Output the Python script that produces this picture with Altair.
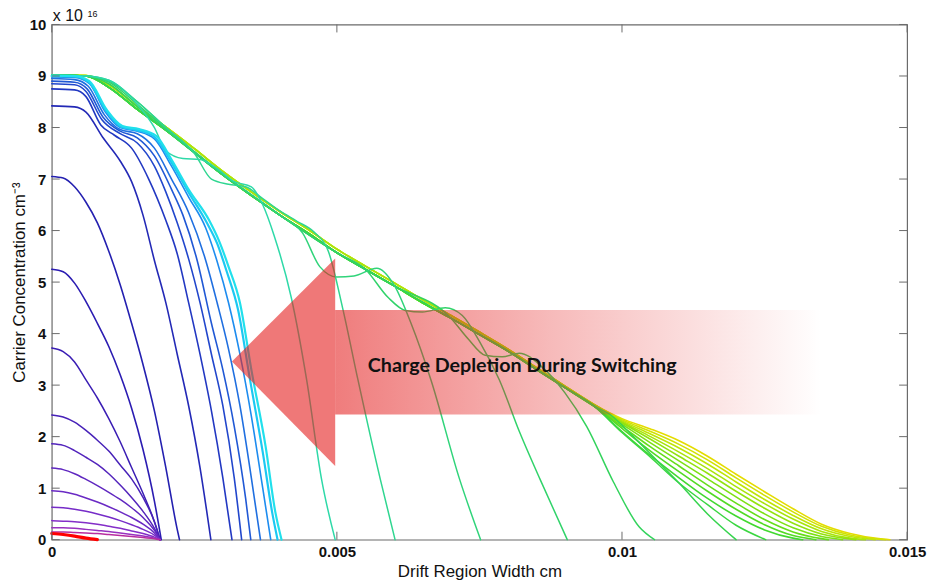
import altair as alt
import pandas as pd

W, H = 860, 518
FRAME = "#6b6b6b"

x_ticks = [0, 0.005, 0.01, 0.015]
y_ticks = [0, 1, 2, 3, 4, 5, 6, 7, 8, 9, 10]

# ---- carrier profiles: x in cm, y in 1e16 cm^-3 ----
# upper part of the high-injection (yellow/green) bundle: outer and inner edge of the band
bundle_head_x = [0, 0.0006, 0.001, 0.0015, 0.002, 0.0025, 0.003, 0.0035, 0.004, 0.0045,
                 0.005, 0.0055, 0.006, 0.0065, 0.007, 0.0075, 0.008, 0.0085, 0.009, 0.0095]
bundle_outer_y = [9.02, 9.01, 8.83, 8.41, 8.01, 7.59, 7.15, 6.75, 6.37, 6.02,
                  5.64, 5.31, 4.99, 4.66, 4.35, 4.03, 3.7, 3.34, 2.98, 2.63]
bundle_inner_y = [9.02, 9.0, 8.78, 8.35, 7.95, 7.52, 7.08, 6.68, 6.3, 5.95,
                  5.57, 5.25, 4.93, 4.6, 4.3, 3.98, 3.66, 3.3, 2.95, 2.6]

# tails of the bundle (colour, x-values, y-values)
bundle_tails = [
    ("#e4dc00", [0.01, 0.0105, 0.011, 0.0115, 0.012, 0.0125, 0.013, 0.0135, 0.014, 0.0145, 0.0147],
                [2.35, 2.15, 1.92, 1.62, 1.27, 0.93, 0.6, 0.3, 0.12, 0.02, 0]),
    ("#d2e203", [0.01, 0.0105, 0.011, 0.0115, 0.012, 0.0125, 0.013, 0.0135, 0.014, 0.0145, 0.01462],
                [2.33, 2.1, 1.85, 1.55, 1.2, 0.86, 0.54, 0.26, 0.09, 0.01, 0]),
    ("#bfe507", [0.01, 0.0105, 0.011, 0.0115, 0.012, 0.0125, 0.013, 0.0135, 0.014, 0.01444],
                [2.31, 2.05, 1.78, 1.47, 1.12, 0.78, 0.47, 0.21, 0.06, 0]),
    ("#a9e40b", [0.01, 0.0105, 0.011, 0.0115, 0.012, 0.0125, 0.013, 0.0135, 0.014, 0.01427],
                [2.29, 2.0, 1.7, 1.38, 1.03, 0.7, 0.4, 0.16, 0.03, 0]),
    ("#93e20f", [0.01, 0.0105, 0.011, 0.0115, 0.012, 0.0125, 0.013, 0.0135, 0.0141],
                [2.27, 1.95, 1.62, 1.29, 0.94, 0.61, 0.32, 0.11, 0]),
    ("#7de014", [0.01, 0.0105, 0.011, 0.0115, 0.012, 0.0125, 0.013, 0.0135, 0.01387],
                [2.24, 1.88, 1.53, 1.18, 0.83, 0.5, 0.23, 0.06, 0]),
    ("#66dd1a", [0.01, 0.0105, 0.011, 0.0115, 0.012, 0.0125, 0.013, 0.0135, 0.01362],
                [2.2, 1.8, 1.43, 1.06, 0.71, 0.39, 0.15, 0.02, 0]),
    ("#52da24", [0.01, 0.0105, 0.011, 0.0115, 0.012, 0.0125, 0.013, 0.0134],
                [2.16, 1.72, 1.32, 0.94, 0.59, 0.29, 0.08, 0]),
    ("#42d830", [0.01, 0.0105, 0.011, 0.0115, 0.012, 0.0125, 0.013, 0.01317],
                [2.1, 1.63, 1.2, 0.8, 0.46, 0.19, 0.03, 0]),
]
bundle_on_outer_edge = [True, True, True, True, False, False, False, False, False]

# depletion fronts moving left, each with a shelf / hump before its steep drop (colour, x, y)
fronts = [
    ("#3ad640", [0, 0.0006, 0.001, 0.0015, 0.002, 0.003, 0.004, 0.005, 0.006, 0.007, 0.008, 0.009, 0.0095,
                 0.01, 0.0105, 0.011, 0.0115, 0.012, 0.01252],
                [9.02, 9.0, 8.78, 8.35, 7.95, 7.08, 6.3, 5.57, 4.93, 4.3, 3.66, 2.95, 2.6,
                 2.08, 1.6, 1.1, 0.68, 0.28, 0]),
    ("#36d44e", [0, 0.0006, 0.001, 0.0015, 0.002, 0.003, 0.004, 0.005, 0.006, 0.007, 0.008, 0.009, 0.0095,
                 0.0098, 0.0102, 0.0106, 0.011, 0.0115, 0.012],
                [9.02, 9.0, 8.78, 8.35, 7.95, 7.08, 6.3, 5.57, 4.93, 4.3, 3.66, 2.95, 2.6,
                 2.42, 2.0, 1.55, 1.1, 0.5, 0]),
    ("#33d35c", [0, 0.0006, 0.001, 0.0015, 0.002, 0.003, 0.004, 0.005, 0.006, 0.007, 0.0073, 0.0076,
                 0.0079, 0.0082, 0.0086, 0.009, 0.00938, 0.00985, 0.0103, 0.01057],
                [9.02, 9.0, 8.85, 8.4, 7.95, 7.08, 6.3, 5.57, 4.93, 4.3, 3.9, 3.58,
                 3.55, 3.62, 3.35, 2.85, 2.2, 1.12, 0.25, 0]),
    ("#31d36a", [0, 0.0006, 0.001, 0.0015, 0.002, 0.003, 0.004, 0.005, 0.0055, 0.0059, 0.0062, 0.0065,
                 0.0069, 0.0072, 0.0075, 0.00785, 0.0082, 0.00856, 0.00904],
                [9.02, 9.0, 8.88, 8.45, 7.97, 7.08, 6.3, 5.57, 5.25, 4.7, 4.45, 4.42,
                 4.5, 4.35, 3.85, 3.1, 2.1, 1.18, 0]),
    ("#30d47a", [0, 0.0006, 0.001, 0.0015, 0.002, 0.003, 0.004, 0.0044, 0.0047, 0.005, 0.0053, 0.0057,
                 0.006, 0.0063, 0.00665, 0.00715, 0.00752],
                [9.02, 9.0, 8.9, 8.5, 8.0, 7.1, 6.3, 5.95, 5.3, 5.1, 5.12, 5.27,
                 4.95, 4.2, 3.1, 1.18, 0]),
    ("#2fd690", [0, 0.0006, 0.001, 0.0015, 0.002, 0.0025, 0.0028, 0.0031, 0.0034, 0.0037, 0.004, 0.0043,
                 0.0046, 0.00485, 0.0051, 0.00537, 0.00576, 0.00602],
                [9.02, 9.0, 8.92, 8.5, 8.0, 7.5, 7.0, 6.9, 6.85, 6.62, 6.38, 6.18,
                 5.97, 5.6, 4.5, 3.1, 1.18, 0]),
    ("#2ed9a8", [0, 0.0006, 0.001, 0.0015, 0.0018, 0.002, 0.0023, 0.0026, 0.0029, 0.0032, 0.0035, 0.0037,
                 0.0039, 0.0042, 0.00447, 0.00473, 0.00497],
                [9.02, 9.0, 8.92, 8.45, 8.0, 7.55, 7.4, 7.38, 7.2, 6.95, 6.85, 6.5,
                 5.9, 4.7, 3.1, 1.18, 0]),
]

# cyan and blue profiles with the shoulder near 8e16 (colour, width, x, y)
blues = [
    ("#20e0ec", 2.2, [0, 0.0004, 0.00066, 0.00096, 0.00124, 0.00153, 0.00183, 0.00211, 0.00241, 0.00276,
                      0.00293, 0.0031, 0.0033, 0.0035, 0.00375, 0.00392, 0.00403],
                     [9.0, 9.0, 8.9, 8.35, 8.03, 7.97, 7.84, 7.36, 6.78, 6.2, 5.81, 5.3, 4.6, 3.3, 1.81, 0.54, 0]),
    ("#1cc8f2", 2.2, [0, 0.0004, 0.00065, 0.00095, 0.00122, 0.0015, 0.0018, 0.0021, 0.0024, 0.00272,
                      0.0029, 0.00307, 0.00327, 0.00347, 0.0037, 0.00387, 0.00396],
                     [9.0, 8.99, 8.88, 8.33, 8.01, 7.95, 7.82, 7.32, 6.74, 6.15, 5.75, 5.2, 4.45, 3.15, 1.7, 0.5, 0]),
    ("#1d8cef", 1.6, [0, 0.0004, 0.00066, 0.00094, 0.0012, 0.0015, 0.0018, 0.0021, 0.0024, 0.0027,
                      0.0029, 0.0031, 0.0033, 0.0035, 0.0037, 0.00384],
                     [8.98, 8.97, 8.85, 8.3, 8.0, 7.93, 7.78, 7.25, 6.65, 6.05, 5.4, 4.6, 3.6, 2.4, 1.0, 0]),
    ("#1f6fe0", 1.6, [0, 0.0004, 0.00064, 0.00092, 0.0012, 0.0015, 0.0018, 0.0021, 0.0024, 0.0027,
                      0.0029, 0.0031, 0.0033, 0.0035, 0.00366],
                     [8.95, 8.93, 8.8, 8.25, 7.96, 7.88, 7.6, 7.0, 6.35, 5.42, 4.6, 3.7, 2.6, 1.2, 0]),
    ("#2058d5", 1.6, [0, 0.0004, 0.00062, 0.0009, 0.0012, 0.0015, 0.0018, 0.0021, 0.0023, 0.00255,
                      0.0028, 0.003, 0.0032, 0.0034, 0.00349],
                     [8.9, 8.88, 8.75, 8.2, 7.93, 7.8, 7.45, 6.8, 6.3, 5.42, 4.2, 3.3, 2.2, 0.8, 0]),
    ("#2146cc", 1.6, [0, 0.0004, 0.0006, 0.00088, 0.0012, 0.0015, 0.0018, 0.002, 0.0022, 0.0024,
                      0.0026, 0.0028, 0.003, 0.0032, 0.00333],
                     [8.85, 8.83, 8.7, 8.15, 7.88, 7.7, 7.25, 6.75, 6.15, 5.45, 4.6, 3.6, 2.6, 1.2, 0]),
    ("#2238c2", 1.6, [0, 0.0004, 0.0006, 0.00086, 0.0011, 0.0014, 0.0017, 0.002, 0.0022, 0.0024,
                      0.0026, 0.0028, 0.003, 0.00316],
                     [8.75, 8.73, 8.6, 8.05, 7.85, 7.6, 7.0, 6.2, 5.55, 4.6, 3.6, 2.5, 1.2, 0]),
    ("#2329b6", 1.6, [0, 0.0004, 0.0006, 0.0009, 0.0012, 0.0014, 0.0016, 0.0018, 0.002, 0.0022,
                      0.0024, 0.0026, 0.00279],
                     [8.42, 8.4, 8.3, 7.8, 7.35, 6.95, 6.3, 5.42, 4.6, 3.6, 2.6, 1.4, 0]),
    ("#2420b0", 1.6, [0, 0.0002, 0.0004, 0.0006, 0.0008, 0.001, 0.0012, 0.0014, 0.0016, 0.0018,
                      0.002, 0.0022, 0.00224],
                     [7.05, 7.02, 6.85, 6.55, 6.15, 5.6, 4.95, 4.2, 3.4, 2.5, 1.4, 0.2, 0]),
    ("#2b1cb2", 1.6, [0, 0.0002, 0.0004, 0.0006, 0.0008, 0.001, 0.0012, 0.0014, 0.0016, 0.0018, 0.00192],
                     [5.25, 5.2, 4.98, 4.62, 4.2, 3.75, 3.2, 2.55, 1.75, 0.75, 0]),
]

# low-level (violet) profiles converging near x = 0.0019
violet_x = [0, 0.0002, 0.0004, 0.0006, 0.0008, 0.001, 0.0012, 0.0014, 0.0016, 0.0018, 0.0019]
violets = [
    ("#3a1db4", [3.72, 3.65, 3.45, 3.1, 2.75, 2.35, 1.9, 1.4, 0.9, 0.35, 0]),
    ("#4721b8", [2.42, 2.38, 2.28, 2.12, 1.93, 1.72, 1.45, 1.18, 0.82, 0.35, 0]),
    ("#5324bc", [1.86, 1.83, 1.73, 1.6, 1.46, 1.28, 1.06, 0.82, 0.55, 0.22, 0]),
    ("#5f27c0", [1.39, 1.36, 1.28, 1.17, 1.05, 0.92, 0.78, 0.62, 0.43, 0.18, 0]),
    ("#6a2ac4", [0.95, 0.93, 0.88, 0.81, 0.73, 0.64, 0.54, 0.43, 0.3, 0.13, 0]),
    ("#762cc8", [0.63, 0.62, 0.59, 0.55, 0.5, 0.44, 0.37, 0.29, 0.2, 0.09, 0]),
    ("#842ec8", [0.37, 0.36, 0.35, 0.33, 0.3, 0.26, 0.22, 0.17, 0.12, 0.05, 0]),
    ("#9830c0", [0.23, 0.23, 0.22, 0.2, 0.18, 0.16, 0.13, 0.1, 0.07, 0.03, 0]),
    ("#b82ca0", [0.15, 0.15, 0.14, 0.13, 0.12, 0.1, 0.08, 0.06, 0.04, 0.02, 0]),
]
red_x = [0, 0.0002, 0.0004, 0.0006, 0.0008]
red_y = [0.12, 0.1, 0.07, 0.03, 0.0]

# arrow annotation (data coordinates)
arrow_tip = (0.00316, 3.46)
arrow_base_x = 0.00497
arrow_head_top, arrow_head_bottom = 5.46, 1.43
shaft_end_x = 0.0135
shaft_top, shaft_bottom = 4.46, 2.43
label_text = "Charge Depletion During Switching"
label_pos = (0.00825, 3.38)

# ---- build long table ----
rows = []
cid = 0


def add(color, width, xs, ys):
    global cid
    for i, (xv, yv) in enumerate(zip(xs, ys)):
        rows.append({"cid": f"c{cid:03d}", "i": i, "x": xv, "y": yv, "col": color, "w": width})
    cid += 1


for (col, tx, ty), outer in zip(bundle_tails, bundle_on_outer_edge):
    head_y = bundle_outer_y if outer else bundle_inner_y
    add(col, 1.6, bundle_head_x + tx, head_y + ty)
for col, xs, ys in fronts:
    add(col, 1.5, xs, ys)
for col, w, xs, ys in reversed(blues):
    add(col, w, xs, ys)
for col, ys in violets:
    add(col, 1.5, violet_x, ys)
add("#ff0000", 3.2, red_x, red_y)

df = pd.DataFrame(rows)

xscale = alt.Scale(domain=[0, 0.015], nice=False, zero=False)
yscale = alt.Scale(domain=[0, 10], nice=False)

lines = alt.Chart(df).mark_line(interpolate="monotone", strokeCap="round").encode(
    x=alt.X("x:Q", scale=xscale,
            axis=alt.Axis(values=x_ticks, format="~g", title="Drift Region Width cm",
                          labelFlush=False, labelOverlap=False, titleX=430, titleY=37,
                          titleBaseline="alphabetic")),
    y=alt.Y("y:Q", scale=yscale,
            axis=alt.Axis(values=y_ticks, format="d", title="Carrier Concentration cm\u207b\u00b3",
                          labelFlush=False, labelOverlap=False, titleX=-32, titleY=259,
                          titleBaseline="middle")),
    detail="cid:N",
    order="i:Q",
    color=alt.Color("col:N", scale=None),
    strokeWidth=alt.StrokeWidth("w:Q", scale=None),
)

head_df = pd.DataFrame({"x": [arrow_tip[0], arrow_base_x],
                        "y": [arrow_tip[1], arrow_head_top],
                        "y2": [arrow_tip[1], arrow_head_bottom]})
head = alt.Chart(head_df).mark_area(color="#e41e1e", opacity=0.6).encode(
    x=alt.X("x:Q", scale=xscale), y=alt.Y("y:Q", scale=yscale), y2="y2:Q")

shaft_df = pd.DataFrame({"x": [arrow_base_x], "x2": [shaft_end_x],
                         "y": [shaft_top], "y2": [shaft_bottom]})
shaft = alt.Chart(shaft_df).mark_rect(
    color=alt.Gradient(gradient="linear",
                       stops=[alt.GradientStop(color="rgba(228,30,30,0.58)", offset=0),
                              alt.GradientStop(color="rgba(228,30,30,0.3)", offset=0.45),
                              alt.GradientStop(color="rgba(228,30,30,0)", offset=1)],
                       x1=0, x2=1, y1=0, y2=0)
).encode(x=alt.X("x:Q", scale=xscale), x2="x2:Q", y=alt.Y("y:Q", scale=yscale), y2="y2:Q")

label_df = pd.DataFrame({"x": [label_pos[0]], "y": [label_pos[1]], "t": [label_text]})
label = alt.Chart(label_df).mark_text(font="Lato", fontWeight="bold", fontSize=19.8,
                                      color="#111111").encode(
    x=alt.X("x:Q", scale=xscale), y=alt.Y("y:Q", scale=yscale), text="t:N")

# inward tick marks on all four sides
xt = pd.DataFrame({"v": x_ticks})
yt = pd.DataFrame({"v": y_ticks})
tb = alt.Chart(xt).mark_rule(color=FRAME).encode(x=alt.X("v:Q", scale=xscale), y=alt.value(H), y2=alt.value(H - 8))
tt = alt.Chart(xt).mark_rule(color=FRAME).encode(x=alt.X("v:Q", scale=xscale), y=alt.value(0), y2=alt.value(8))
tl = alt.Chart(yt).mark_rule(color=FRAME).encode(y=alt.Y("v:Q", scale=yscale), x=alt.value(0), x2=alt.value(8))
tr = alt.Chart(yt).mark_rule(color=FRAME).encode(y=alt.Y("v:Q", scale=yscale), x=alt.value(W), x2=alt.value(W - 8))

exp_df = pd.DataFrame({"t": ["x 10"]})
exp_main = alt.Chart(exp_df).mark_text(font="Liberation Sans", fontSize=16, align="left",
                                       baseline="alphabetic", color="#111111").encode(
    x=alt.value(1), y=alt.value(-3), text="t:N")
exp_sup = alt.Chart(pd.DataFrame({"t": ["16"]})).mark_text(font="Liberation Sans", fontSize=9,
                                                          align="left", baseline="alphabetic",
                                                          color="#111111").encode(
    x=alt.value(36), y=alt.value(-8), text="t:N")

chart = alt.layer(lines, head, shaft, label, tb, tt, tl, tr, exp_main, exp_sup).properties(
    width=W, height=H,
    autosize=alt.AutoSizeParams(type="none"),
    padding={"left": 44, "top": 15, "right": 20, "bottom": 44},
).configure_view(stroke=FRAME, strokeWidth=1.2).configure_axis(
    domain=False, ticks=False, grid=False,
    labelFont="Liberation Sans", labelFontSize=15, labelFontWeight="bold", labelColor="#111111",
    labelPadding=5,
    titleFont="Liberation Sans", titleFontSize=17, titleFontWeight="normal", titleColor="#111111",
).configure_axisY(labelPadding=6)

chart.save("out.html", embed_options={"renderer": "svg", "actions": False})
